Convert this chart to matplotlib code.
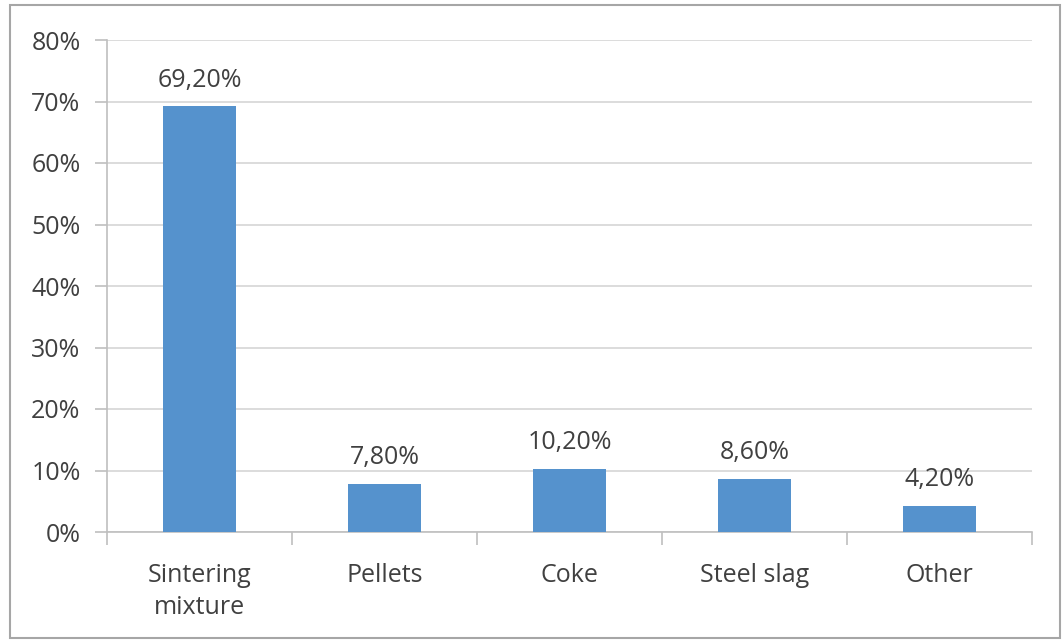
import matplotlib
matplotlib.use("Agg")
import matplotlib.pyplot as plt
from matplotlib.patches import Rectangle
from matplotlib.ticker import FixedLocator, MultipleLocator, FuncFormatter

categories = ["Sintering\nmixture", "Pellets", "Coke", "Steel slag", "Other"]
values = [69.2, 7.8, 10.2, 8.6, 4.2]
value_labels = ["69,20%", "7,80%", "10,20%", "8,60%", "4,20%"]

plt.rcParams["font.family"] = ["Open Sans", "DejaVu Sans"]

fig = plt.figure(figsize=(10.62, 6.40), dpi=100)
fig.patch.set_facecolor("white")

# outer chart frame
fig.add_artist(Rectangle((10 / 1062, 2 / 640), 1050 / 1062, 633 / 640,
                         transform=fig.transFigure, fill=False,
                         edgecolor="#a6a6a6", linewidth=1.5))

ax = fig.add_axes([107 / 1062, 1 - 532 / 640, (1032 - 107) / 1062, (532 - 40) / 640])

x = range(len(categories))
ax.bar(x, values, width=0.39, color="#5592cd", zorder=3)

for xi, v, lab in zip(x, values, value_labels):
    ax.annotate(lab, (xi, v), xytext=(0, 10), textcoords="offset points",
                ha="center", va="bottom", fontsize=18, color="#404040")

ax.set_xlim(-0.5, len(categories) - 0.5)
ax.set_ylim(0, 80)
ax.yaxis.set_major_locator(MultipleLocator(10))
ax.yaxis.set_major_formatter(FuncFormatter(lambda v, p: f"{v:.0f}%"))
ax.grid(axis="y", color="#d6d6d6", linewidth=1.2, zorder=0)

ax.set_xticks(list(x))
ax.set_xticklabels(categories, fontsize=18, color="#404040", linespacing=1.38)
ax.xaxis.set_minor_locator(FixedLocator([i - 0.5 for i in range(len(categories) + 1)]))
ax.tick_params(axis="x", which="major", length=0, pad=22)
ax.tick_params(axis="x", which="minor", length=9, color="#bfbfbf", width=1.2)
ax.tick_params(axis="y", length=9, color="#bfbfbf", width=1.2, labelsize=18,
               labelcolor="#404040", pad=10)

for side in ("top", "right"):
    ax.spines[side].set_visible(False)
for side in ("left", "bottom"):
    ax.spines[side].set_color("#bfbfbf")
    ax.spines[side].set_linewidth(1.2)

fig.savefig("out.png", dpi=100)
